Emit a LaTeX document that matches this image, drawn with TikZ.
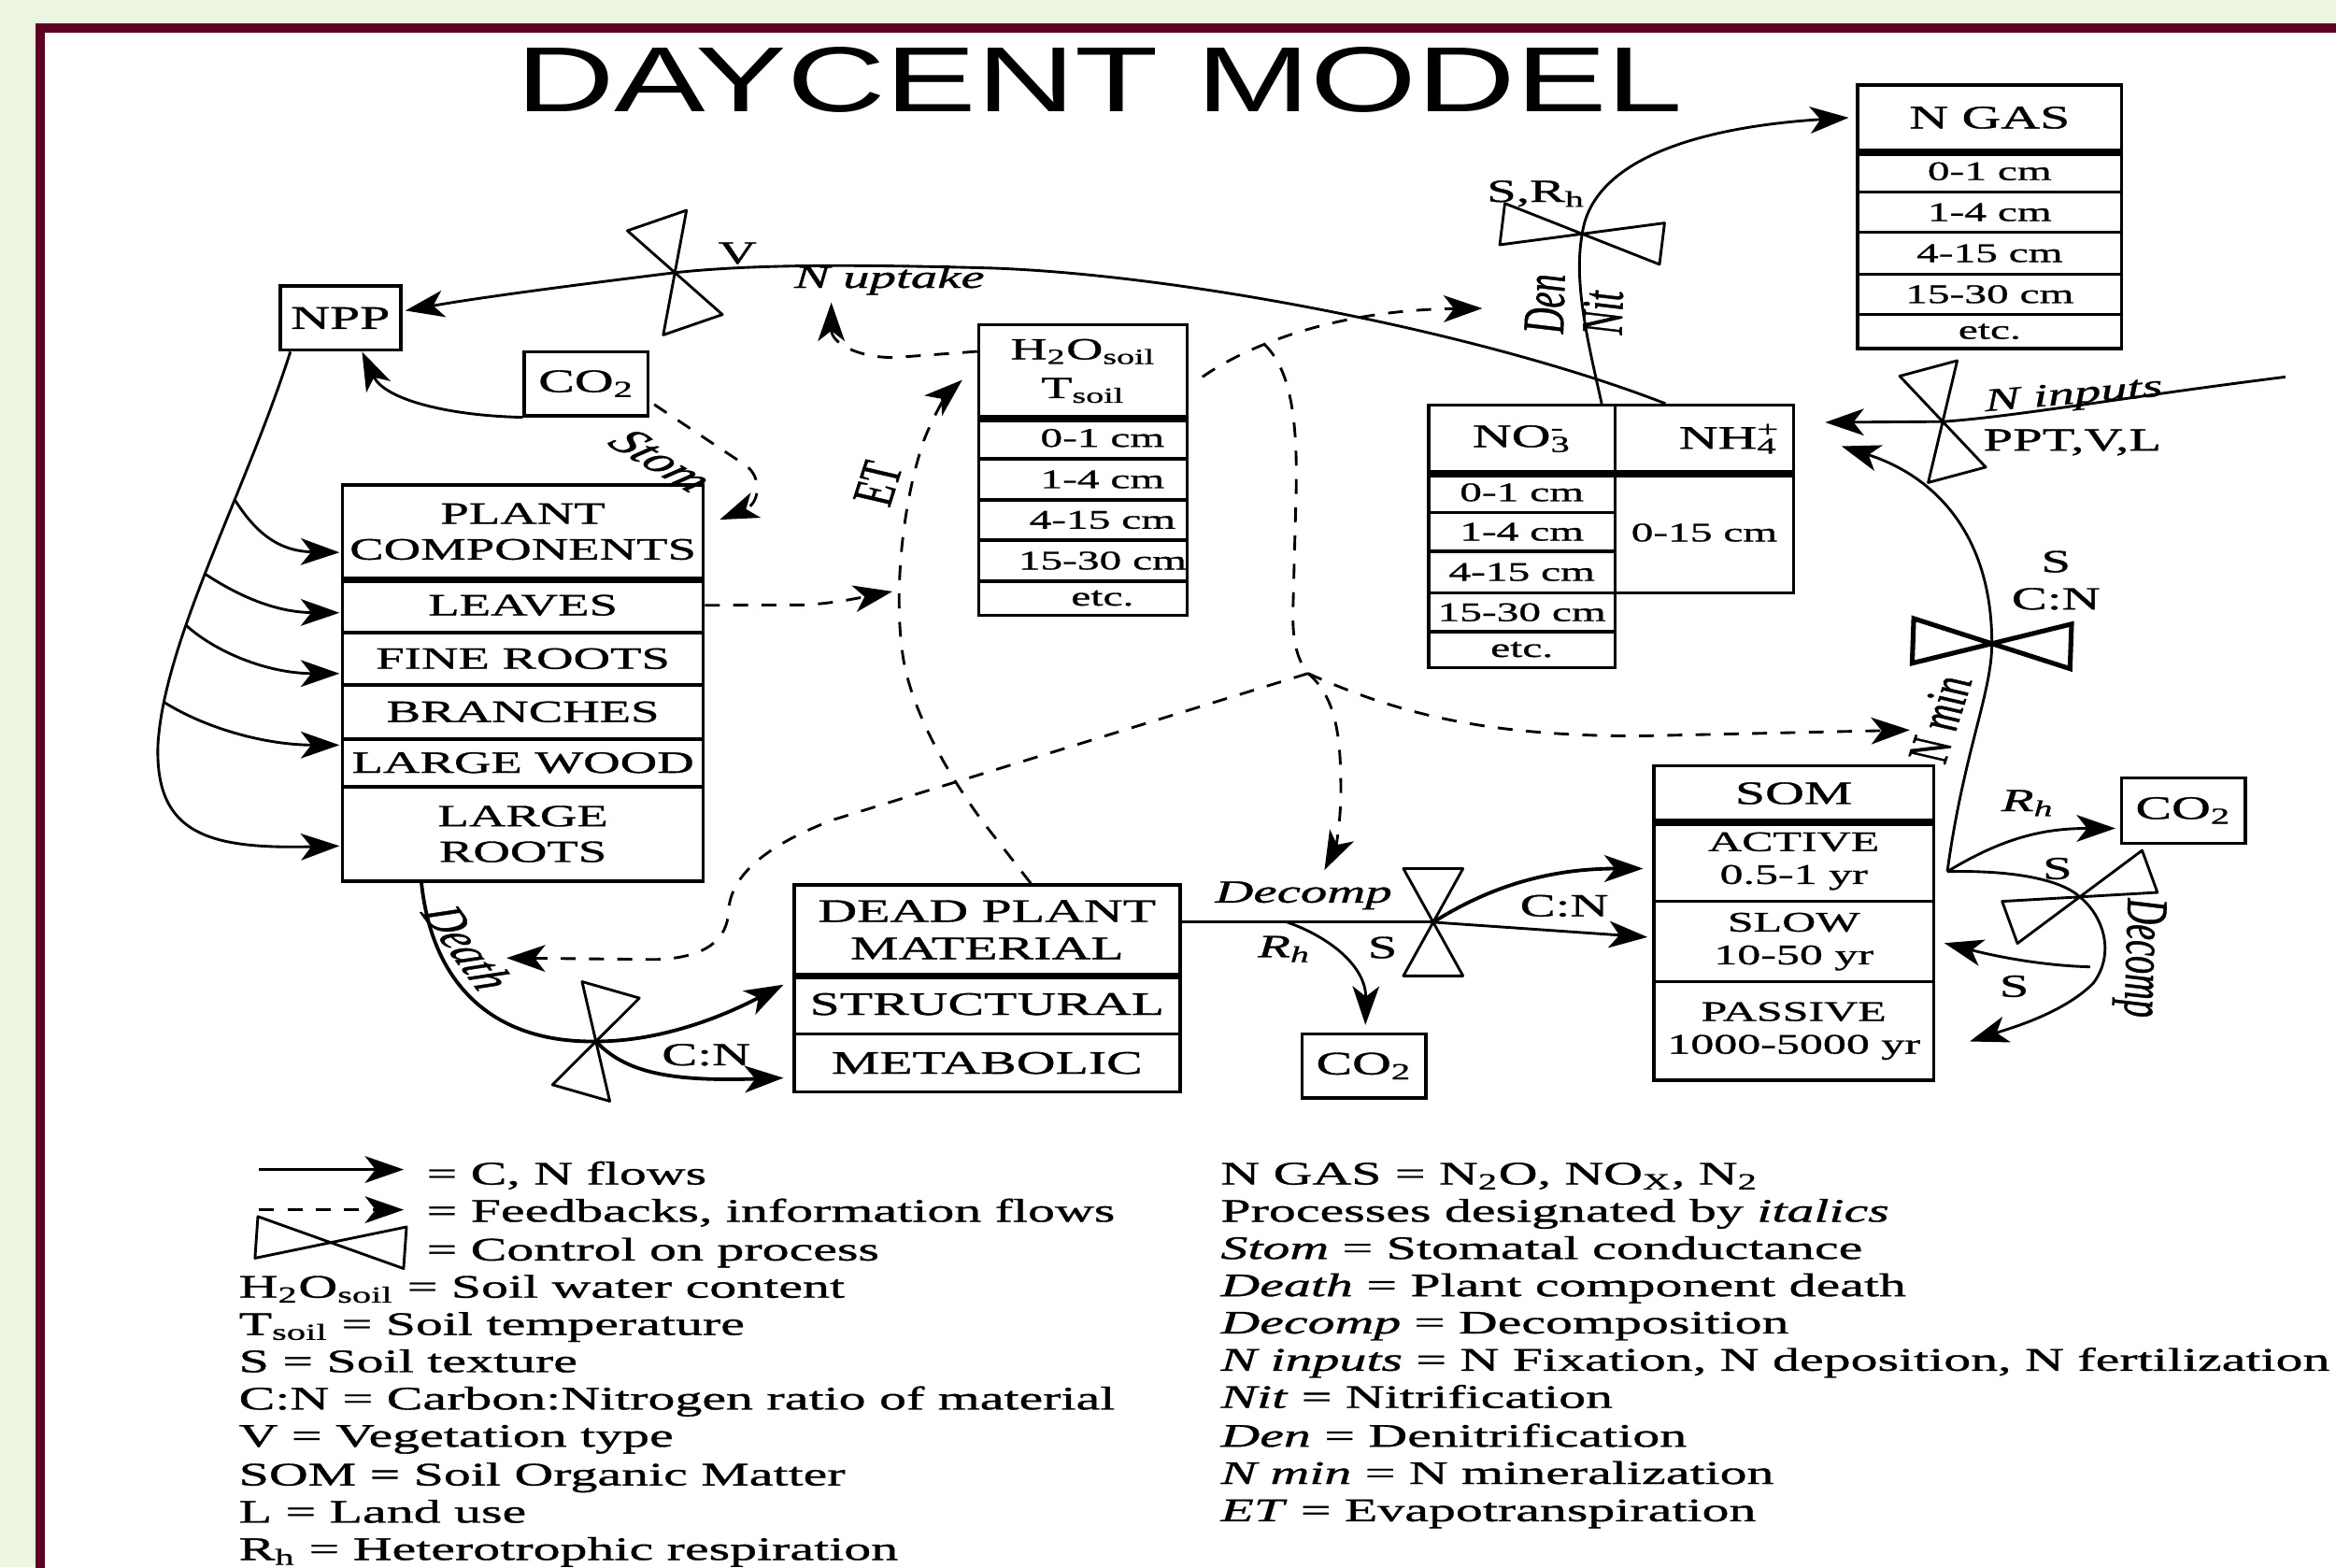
\documentclass[tikz,border=0pt]{standalone}
\usepackage{fontspec}
\setmainfont{Liberation Serif}
\newfontfamily\dcfont[FakeStretch=1.65, FakeBold=1]{Liberation Serif}
\newfontfamily\dcplain[FakeBold=1]{Liberation Serif}
\newfontfamily\ttlfont[FakeStretch=1.48]{Liberation Sans}
\usetikzlibrary{arrows.meta, calc}

\definecolor{slidegreen}{HTML}{EBF5E1}
\definecolor{slideframe}{HTML}{5E0021}

\tikzstyle{cell} = [rectangle, draw, line width=1.1pt, inner sep=0pt, align=center,
  font=\dcfont\fontsize{11}{12.5}\selectfont]
\tikzstyle{cmcell} = [cell, font=\dcfont\fontsize{9}{10}\selectfont]
\tikzstyle{divider} = [line width=2.4pt]
\tikzstyle{flow} = [-{Stealth[length=13pt, width=9pt, inset=3.5pt]}, line width=0.9pt]
\tikzstyle{feedback} = [flow, dash pattern=on 5pt off 4.5pt]
\tikzstyle{ctrl} = [inner sep=1pt, font=\dcfont\fontsize{10.8}{12}\selectfont]
\tikzstyle{proc} = [inner sep=1pt, font=\dcfont\itshape\fontsize{10.8}{12}\selectfont]
\tikzstyle{rproc} = [inner sep=1pt, font=\dcplain\itshape\fontsize{12}{13}\selectfont, xscale=1.65]
\tikzstyle{legtext} = [anchor=base west, inner sep=0pt, font=\dcfont\fontsize{11}{12.5}\selectfont]
\tikzset{
  valve line/.style={line width=0.9pt, line join=round},
  pics/valve/.style 2 args={code={
    \draw[valve line] (-#1,-#2) -- (#1,#2) -- (#1,-#2) -- (-#1,#2) -- cycle;
  }}
}

\begin{document}
\begin{tikzpicture}[x=0.5pt, y=-0.5pt]
  \useasboundingbox (0,0) rectangle (1568,1052);
  \clip (0,0) rectangle (1568,1052);
  \fill[slidegreen] (0,0) rectangle (1568,1052);
  \filldraw[fill=white, draw=slideframe, line width=3pt] (27,19) rectangle (1640,1110);

  \node[font=\ttlfont\fontsize{31}{31}\selectfont, anchor=base, inner sep=0pt] (title) at (738,75) {DAYCENT MODEL};

  % plant pools
  \node[cell, minimum width=40.5pt, minimum height=21.5pt] (npp) at (228.5,213.5) {NPP};
  \node[cell, minimum width=41.5pt, minimum height=21.5pt] (co2a) at (393.5,257.5) {CO\textsubscript{2}};

  \node[cell, font=\dcfont\fontsize{10.4}{12}\selectfont, minimum width=121pt, minimum height=31.2pt] (pchead) at (351,356.8) {PLANT\\COMPONENTS};
  \node[cell, font=\dcfont\fontsize{10.4}{12}\selectfont, minimum width=121pt, minimum height=18.3pt] (leaves) at (351,406.3) {LEAVES};
  \node[cell, font=\dcfont\fontsize{10.4}{12}\selectfont, minimum width=121pt, minimum height=17.5pt] (fineroots) at (351,442.1) {FINE ROOTS};
  \node[cell, font=\dcfont\fontsize{10.4}{12}\selectfont, minimum width=121pt, minimum height=18.2pt] (branches) at (351,477.8) {BRANCHES};
  \node[cell, font=\dcfont\fontsize{10.4}{12}\selectfont, minimum width=121pt, minimum height=16pt] (lwood) at (351,512) {LARGE WOOD};
  \node[cell, font=\dcfont\fontsize{10.4}{12}\selectfont, minimum width=121pt, minimum height=31.8pt] (lroots) at (351,559.8) {LARGE\\ROOTS};
  \draw[divider] (pchead.south west) -- (pchead.south east);

  % soil water and temperature
  \node[cell, font=\dcfont\fontsize{10.3}{13}\selectfont, minimum width=70pt, minimum height=31pt] (h2ohead) at (727,249) {H\textsubscript{2}O\textsubscript{soil}\\T\textsubscript{soil}};
  \node[cmcell, minimum width=70pt, minimum height=14pt] (h2o1) at (727,294) {\hspace*{13pt}0-1 cm};
  \node[cmcell, minimum width=70pt, minimum height=13.8pt] (h2o2) at (727,321.8) {\hspace*{13pt}1-4 cm};
  \node[cmcell, minimum width=70pt, minimum height=13.5pt] (h2o3) at (727,349) {\hspace*{13pt}4-15 cm};
  \node[cmcell, minimum width=70pt, minimum height=13.7pt] (h2o4) at (727,376.3) {\hspace*{13pt}15-30 cm};
  \node[cmcell, minimum width=70pt, minimum height=11.5pt] (h2o5) at (727,401.5) {\hspace*{13pt}etc.};
  \draw[divider] (h2ohead.south west) -- (h2ohead.south east);

  % N gas
  \node[cell, minimum width=88.5pt, minimum height=22pt] (ngashead) at (1335.5,79) {N GAS};
  \node[cmcell, minimum width=88.5pt, minimum height=14pt] (ng1) at (1335.5,115) {0-1 cm};
  \node[cmcell, minimum width=88.5pt, minimum height=13.5pt] (ng2) at (1335.5,142.5) {1-4 cm};
  \node[cmcell, minimum width=88.5pt, minimum height=14pt] (ng3) at (1335.5,170) {4-15 cm};
  \node[cmcell, minimum width=88.5pt, minimum height=13.5pt] (ng4) at (1335.5,197.5) {15-30 cm};
  \node[cmcell, minimum width=88.5pt, minimum height=11.5pt] (ng5) at (1335.5,222.5) {etc.};
  \draw[divider] (ngashead.south west) -- (ngashead.south east);

  % mineral N
  \node[cell, minimum width=62.5pt, minimum height=22.5pt] (no3head) at (1021.5,294.5) {NO\rlap{\textsuperscript{-}}\textsubscript{3}};
  \node[cell, minimum width=60pt, minimum height=22.5pt] (nh4head) at (1144,294.5) {\hspace*{16pt}NH\rlap{\textsuperscript{+}}\textsubscript{4}};
  \node[cmcell, minimum width=62.5pt, minimum height=13.5pt] (no31) at (1021.5,330.5) {0-1 cm};
  \node[cmcell, minimum width=62.5pt, minimum height=13pt] (no32) at (1021.5,357) {1-4 cm};
  \node[cmcell, minimum width=62.5pt, minimum height=14pt] (no33) at (1021.5,384) {4-15 cm};
  \node[cmcell, minimum width=62.5pt, minimum height=13pt] (no34) at (1021.5,411) {15-30 cm};
  \node[cmcell, minimum width=62.5pt, minimum height=12pt] (no35) at (1021.5,436) {etc.};
  \node[cmcell, minimum width=60pt, minimum height=40.5pt] (nh4row) at (1144,357.5) {0-15 cm};
  \draw[divider] (no3head.south west) -- (nh4head.south east);

  % soil organic matter
  \node[cell, minimum width=94pt, minimum height=18.5pt] (somhead) at (1204,532.5) {SOM};
  \node[cell, font=\dcfont\fontsize{9.5}{11}\selectfont, minimum width=94pt, minimum height=27pt] (active) at (1204,578) {ACTIVE\\0.5-1 yr};
  \node[cell, font=\dcfont\fontsize{9.5}{11}\selectfont, minimum width=94pt, minimum height=27pt] (slow) at (1204,632) {SLOW\\10-50 yr};
  \node[cell, font=\dcfont\fontsize{9.5}{11}\selectfont, minimum width=94pt, minimum height=33pt] (passive) at (1204,692) {PASSIVE\\1000-5000 yr};
  \draw[divider] (somhead.south west) -- (somhead.south east);

  % litter
  \node[cell, minimum width=129.5pt, minimum height=30pt] (deadhead) at (662.5,624) {DEAD PLANT\\MATERIAL};
  \node[cell, minimum width=129.5pt, minimum height=20pt] (struct) at (662.5,674) {STRUCTURAL};
  \node[cell, minimum width=129.5pt, minimum height=19.5pt] (metab) at (662.5,713.5) {METABOLIC};
  \draw[divider] (deadhead.south west) -- (deadhead.south east);

  \node[cell, minimum width=41.5pt, minimum height=21.5pt] (co2b) at (915.5,715.5) {CO\textsubscript{2}};
  \node[cell, minimum width=41.5pt, minimum height=22pt] (co2c) at (1465.5,544) {CO\textsubscript{2}};

  % controls
  \coordinate (vV) at (453,183);
  \coordinate (vDen) at (1062,157);
  \coordinate (vIn) at (1304,283);
  \coordinate (vMin) at (1337,432);
  \coordinate (vDeath) at (400,699);
  \coordinate (vDec) at (962,619);
  \coordinate (vSom) at (1396,602);
  \pic[rotate=109] at (vV) {valve={37}{21}};
  \pic[rotate=-7] at (vDen) {valve={54}{14}};
  \pic[rotate=105] at (vIn) {valve={37}{20}};
  \pic[rotate=-2, valve line/.style={line width=1.6pt}] at (vMin) {valve={53}{15}};
  \pic[rotate=74] at (vDeath) {valve={36}{20}};
  \pic[rotate=90] at (vDec) {valve={36}{20}};
  \pic[rotate=20] at (vSom) {valve={50}{15}};

  % C, N flows
  \draw[flow] ($(nh4head.north west)+(35,0)$) .. controls (1000,225) and (800,185) .. (667,180)
    .. controls (560,177) and (500,178) .. (vV) .. controls (380,192) and (320,200) .. ($(npp.east)+(2,-5)$);
  \draw[flow] (co2a.south west) .. controls (300,279) and (258,268) .. ($(npp.south)+(14.5,0)$);
  \draw[flow] ($(npp.south west)+(8,0)$) .. controls (165,330) and (110,430) .. (106,500)
    coordinate[pos=0.35] (t1) coordinate[pos=0.53] (t2) coordinate[pos=0.66] (t3) coordinate[pos=0.87] (t4)
    .. controls (104,560) and (140,570) .. ($(lroots.west)+(-1,8)$);
  \draw[flow] (t1) .. controls (170,355) and (185,370) .. ($(pchead.west)+(-1,14)$);
  \draw[flow] (t2) .. controls (160,400) and (185,411) .. ($(leaves.west)+(-1,5)$);
  \draw[flow] (t3) .. controls (145,438) and (180,452) .. ($(fineroots.west)+(-1,10)$);
  \draw[flow] (t4) .. controls (140,490) and (180,500) .. ($(branches.south west)+(-1,3)$);

  \draw[flow, line width=1.2pt] ($(lroots.south west)+(54,0)$) .. controls (290,660) and (330,700) .. (vDeath)
    .. controls (440,699) and (480,685) .. ($(struct.north west)+(-6,8)$);
  \draw[flow, line width=1.2pt] (vDeath) .. controls (420,720) and (450,726) .. ($(metab.west)+(-6,10)$);

  \draw[flow, -] ($(deadhead.east)+(0,-5)$) -- (vDec) coordinate[pos=0.42] (rhA);
  \draw[flow, line width=1.2pt] (vDec) .. controls (1000,595) and (1040,583) .. ($(active.west)+(-6,5)$);
  \draw[flow] (vDec) -- ($(slow.west)+(-3,-3)$);
  \draw[flow] (rhA) .. controls (895,630) and (917,650) .. ($(co2b.north)+(1,-5)$);

  \coordinate (somR) at ($(active.east)+(8,7)$);
  \draw[flow] (somR) .. controls (1345,562) and (1372,556) .. ($(co2c.west)+(-3,12)$);
  \draw[flow] (somR) .. controls (1318,505) and (1337,465) .. (vMin)
    .. controls (1337,360) and (1300,320) .. ($(nh4head.east)+(31,5)$);
  \coordinate (ninSrc) at (1534,253);
  \draw[flow] (ninSrc) .. controls (1430,266) and (1350,280) .. (vIn) -- ($(nh4head.east)+(20,-11)$);
  \draw[flow] (somR) .. controls (1350,584) and (1383,590) .. (vSom) .. controls (1412,615) and (1420,640) .. (1405,660)
    .. controls (1385,680) and (1350,690) .. ($(passive.east)+(23,7)$);
  \coordinate (decS) at (1403,649);
  \draw[flow] (decS) .. controls (1370,648) and (1340,642) .. ($(slow.east)+(6,1)$);

  \draw[flow] ($(no3head.north east)+(-10,0)$) .. controls (1066,230) and (1056,190) .. (vDen)
    .. controls (1070,100) and (1160,84) .. ($(ngashead.west)+(-5,0)$);

  % feedbacks
  \draw[feedback] ($(co2a.east)+(3,14)$) -- (500,312) .. controls (512,320) and (510,338) .. ($(pchead.east)+(10,-8)$);
  \coordinate (nUpIn) at (558,203);
  \draw[feedback] ($(h2ohead.north west)+(0,19)$) -- (600,240) .. controls (575,240) and (558,230) .. (nUpIn);
  \coordinate (denIn) at (995,207);
  \draw[feedback] ($(h2ohead.east)+(9,4)$) .. controls (840,230) and (900,208) .. (denIn) coordinate[pos=0.33] (d3s);
  \coordinate (jct) at (878,452);
  \draw[feedback, -] (d3s) .. controls (866,248) and (871,280) .. (870,330) -- (868,405) .. controls (867,428) and (870,442) .. (jct);
  \coordinate (decIn) at (889,584);
  \draw[feedback] (jct) .. controls (897,468) and (900,495) .. (900,530) .. controls (900,555) and (896,570) .. (decIn);
  \coordinate (nminIn) at (1282,490);
  \draw[feedback] (jct) .. controls (940,480) and (1000,494) .. (1100,494) -- (nminIn);
  \coordinate (deathIn) at (340,643);
  \draw[feedback] (jct) -- (560,550) .. controls (520,565) and (490,585) .. (489,612)
    .. controls (488,630) and (475,643) .. (440,644) -- (deathIn);
  \draw[feedback] ($(deadhead.north west)+(160,0)$) -- (660,552) .. controls (640,525) and (612,480) .. (606,440)
    .. controls (600,400) and (605,340) .. (620,296) .. controls (628,275) and (638,262) .. ($(h2ohead.west)+(-10,6)$);
  \coordinate (etLeaf) at (599,397);
  \draw[feedback] (leaves.east) -- (540,406) .. controls (560,405) and (578,401) .. (etLeaf);

  % labels
  \node[ctrl] (lblV) at (495,170) {V};
  \node[proc] (lblUptake) at (597,188) {N uptake};
  \node[rproc, rotate=-44] (lblStom) at (444,309) {Stom};
  \node[rproc, rotate=79] (lblET) at (589,325) {ET};
  \node[rproc, rotate=89] (lblDen) at (1037,204) {Den};
  \node[rproc, rotate=89] (lblNit) at (1076,210) {Nit};
  \node[ctrl] (lblSRh) at (1031,130) {S,R\textsubscript{h}};
  \node[proc, rotate=5] (lblIn) at (1392,266) {N inputs};
  \node[ctrl] (lblPPT) at (1391,297) {PPT,V,L};
  \node[ctrl] (lblS1) at (1380,377) {S};
  \node[ctrl] (lblCN1) at (1380,402) {C:N};
  \node[rproc, rotate=79] (lblMin) at (1302,483) {N min};
  \node[proc] (lblDec) at (875,601) {Decomp};
  \node[proc] (lblRh1) at (862,637) {R\textsubscript{h}};
  \node[ctrl] (lblS2) at (928,636) {S};
  \node[ctrl] (lblCN2) at (1050,608) {C:N};
  \node[proc] (lblRh2) at (1361,539) {R\textsubscript{h}};
  \node[ctrl] (lblS3) at (1381,583) {S};
  \node[ctrl] (lblS4) at (1352,662) {S};
  \node[rproc, rotate=-91] (lblDec2) at (1436,643) {Decomp};
  \node[rproc, rotate=-66] (lblDeath) at (314,636) {Death};
  \node[ctrl] (lblCN3) at (474,708) {C:N};

  % legend
  \coordinate (lgS1) at (174,785);
  \coordinate (lgS2) at (271,785);
  \draw[flow] (lgS1) -- (lgS2);
  \coordinate (lgD1) at (174,812);
  \coordinate (lgD2) at (271,812);
  \draw[feedback] (lgD1) -- (lgD2);
  \coordinate (vLeg) at (222,834);
  \pic[rotate=-4] at (vLeg) {valve={50}{14}};
  \node[legtext] (lgFlow) at (286,795) {= C, N flows};
  \node[legtext] (lgFeed) at (286,820) {= Feedbacks, information flows};
  \node[legtext] (lgCtrl) at (286,846) {= Control on process};
  \node[legtext] (lgWater) at (160,871) {H\textsubscript{2}O\textsubscript{soil} = Soil water content};
  \node[legtext] (lgTemp) at (160,896) {T\textsubscript{soil} = Soil temperature};
  \node[legtext] (lgS) at (160,921) {S = Soil texture};
  \node[legtext] (lgCN) at (160,946) {C:N = Carbon:Nitrogen ratio of material};
  \node[legtext] (lgV) at (160,971) {V = Vegetation type};
  \node[legtext] (lgSOM) at (160,997) {SOM = Soil Organic Matter};
  \node[legtext] (lgL) at (160,1022) {L = Land use};
  \node[legtext] (lgRh) at (160,1047) {R\textsubscript{h} = Heterotrophic respiration};

  \node[legtext] (lgGas) at (819,795) {N GAS = N\textsubscript{2}O, NO\textsubscript{X}, N\textsubscript{2}};
  \node[legtext] (lgItal) at (819,820) {Processes designated by \textit{italics}};
  \node[legtext] (lgStom) at (819,845) {\textit{Stom} = Stomatal conductance};
  \node[legtext] (lgDeath) at (819,870) {\textit{Death} = Plant component death};
  \node[legtext] (lgDecomp) at (819,895) {\textit{Decomp} = Decomposition};
  \node[legtext] (lgInputs) at (819,920) {\textit{N inputs} = N Fixation, N deposition, N fertilization};
  \node[legtext] (lgNit) at (819,945) {\textit{Nit} = Nitrification};
  \node[legtext] (lgDen) at (819,971) {\textit{Den} = Denitrification};
  \node[legtext] (lgNmin) at (819,996) {\textit{N min} = N mineralization};
  \node[legtext] (lgET) at (819,1021) {\textit{ET} = Evapotranspiration};

\end{tikzpicture}
\end{document}
